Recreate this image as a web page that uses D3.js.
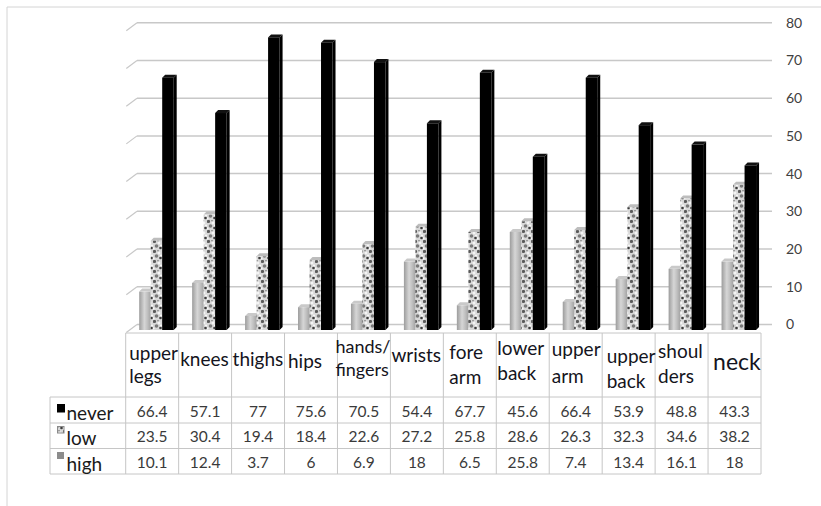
<!DOCTYPE html>
<html><head><meta charset="utf-8">
<script src="https://cdnjs.cloudflare.com/ajax/libs/d3/7.8.5/d3.min.js"></script>
<style>html,body{margin:0;padding:0;background:#fff;}svg{display:block;}</style>
</head><body>
<script>
// ---- data ----
const categories = ["upper legs","knees","thighs","hips","hands/fingers","wrists","fore arm","lower back","upper arm","upper back","shoulders","neck"];
const categoryLines = [["upper","legs"],["knees"],["thighs"],["hips"],["hands/","fingers"],["wrists"],["fore","arm"],["lower","back"],["upper","arm"],["upper","back"],["shoul","ders"],["neck"]];
const seriesNames = ["never","low","high"];
const never = [66.4,57.1,77,75.6,70.5,54.4,67.7,45.6,66.4,53.9,48.8,43.3];
const low   = [23.5,30.4,19.4,18.4,22.6,27.2,25.8,28.6,26.3,32.3,34.6,38.2];
const high  = [10.1,12.4,3.7,6,6.9,18,6.5,25.8,7.4,13.4,16.1,18];
const yTicks = [0,10,20,30,40,50,60,70,80];

// ---- layout / styling (not data) ----
const labelLayout = [
  {dx:3.5,y:360,gap:23,size:19},{dx:1.5,y:366,gap:17,size:19},{dx:1,y:366,gap:17,size:19},
  {dx:3.5,y:368,gap:17,size:19},{dx:-2,y:353,gap:23,size:18},{dx:1,y:362,gap:17,size:19},
  {dx:6,y:359,gap:25,size:19},{dx:1,y:355,gap:25,size:19},{dx:2.5,y:356,gap:27,size:19},
  {dx:4.5,y:363,gap:25,size:19},{dx:3,y:358,gap:25,size:19},{dx:5,y:370,gap:0,size:23}
];
const W = 821, H = 506;
const seriesData = {never, low, high};

const svg = d3.select("body").append("svg").attr("width", W).attr("height", H)
  .style("font-family", "Lato, 'Open Sans', sans-serif");

const defs = svg.append("defs");
const grad = defs.append("linearGradient").attr("id","gHigh").attr("x1","0").attr("x2","1").attr("y1","0").attr("y2","0");
[["0%","#9c9c9c"],["45%","#d6d6d6"],["70%","#c2c2c2"],["100%","#a4a4a4"]].forEach(s=>grad.append("stop").attr("offset",s[0]).attr("stop-color",s[1]));
const pat = defs.append("pattern").attr("id","pLow").attr("patternUnits","userSpaceOnUse").attr("width",9).attr("height",10);
pat.append("rect").attr("width",9).attr("height",10).attr("fill","#d8d8d8");
[[1.5,1.5,1.6,"#5a5a5a"],[6,3,1.4,"#f4f4f4"],[3.5,6,1.8,"#7a7a7a"],[7.5,8,1.3,"#3c3c3c"],[0.5,8.5,1.1,"#f8f8f8"],[5,0.5,1,"#999"],[8,5.5,0.9,"#fff"]]
  .forEach(c=>pat.append("circle").attr("cx",c[0]).attr("cy",c[1]).attr("r",c[2]).attr("fill",c[3]));

// frame
svg.append("line").attr("x1",7).attr("y1",7).attr("x2",W).attr("y2",7).attr("stroke","#d4d4d4");
svg.append("line").attr("x1",7).attr("y1",7).attr("x2",7).attr("y2",H).attr("stroke","#d4d4d4");

// scales
const x = d3.scaleBand().domain(categories).range([125.7, 761]).paddingInner(0).paddingOuter(0);
const xs = d3.scaleBand().domain(["high","low","never"]).range([13.5, 48]).padding(0);
const yWall = d3.scaleLinear().domain([0,80]).range([324.5, 22.7]);
const yBar = d3.scaleLinear().domain([0,80]).range([330, 26]);
const wallDX = 10.7, wallDY = -8, depth = 3;

// gridlines (back wall) + side-wall diagonals
const grid = svg.append("g");
yTicks.forEach(t=>{
  const yy = yWall(t);
  grid.append("line").attr("x1",137).attr("x2",772).attr("y1",yy).attr("y2",yy).attr("stroke","#c8c8c8").attr("stroke-width",1.5);
  grid.append("line").attr("x1",137-wallDX).attr("y1",yy-wallDY).attr("x2",137).attr("y2",yy).attr("stroke","#c8c8c8").attr("stroke-width",1.2);
});
// right axis labels
const yAxis = d3.axisRight(yWall).tickValues(yTicks).tickSize(0).tickPadding(0);
const ax = svg.append("g").attr("transform","translate(786,0)").call(yAxis);
ax.select(".domain").remove();
ax.selectAll("text").attr("fill","#404040").style("font-size","14px").style("font-family","Lato, 'Open Sans', sans-serif");

// bars
const fills = {high:"url(#gHigh)", low:"url(#pLow)", never:"#000"};
const tops = {high:"#c9c9c9", low:"#bdbdbd", never:"#111"};
const sides = {high:"#8e8e8e", low:"#9a9a9a", never:"#000"};
const bars = svg.append("g");
categories.forEach((c,i)=>{
  ["high","low","never"].forEach(s=>{
    const v = seriesData[s][i];
    const x0 = x(c) + xs(s), w = xs.bandwidth();
    const y0 = yBar(v), b = yBar(0);
    const g = bars.append("g");
    g.append("path").attr("d",`M${x0+w},${b}L${x0+w+depth},${b-depth}L${x0+w+depth},${y0-depth}L${x0+w},${y0}Z`).attr("fill",sides[s]);
    g.append("path").attr("d",`M${x0},${y0}L${x0+depth},${y0-depth}L${x0+w+depth},${y0-depth}L${x0+w},${y0}Z`).attr("fill",tops[s]);
    g.append("rect").attr("x",x0).attr("y",y0).attr("width",w).attr("height",b-y0).attr("fill",fills[s]);
  });
});

// table
const tbl = svg.append("g");
const headTop = 333;
const rowYs = [397, 423, 448.5, 474];
const legLeft = 50, tblRight = 761;
const lineColor = "#c6c6c6";
tbl.append("line").attr("x1",125.7).attr("x2",tblRight).attr("y1",headTop).attr("y2",headTop).attr("stroke",lineColor);
rowYs.forEach(yy=>tbl.append("line").attr("x1",legLeft).attr("x2",tblRight).attr("y1",yy).attr("y2",yy).attr("stroke",lineColor));
const colEdges = categories.map(c=>x(c)).concat([x.range()[1]]);
colEdges.forEach(xx=>tbl.append("line").attr("x1",xx).attr("x2",xx).attr("y1",headTop).attr("y2",rowYs[3]).attr("stroke",lineColor));
tbl.append("line").attr("x1",legLeft).attr("x2",legLeft).attr("y1",rowYs[0]).attr("y2",rowYs[3]).attr("stroke",lineColor);

// header labels (one text per line)
categories.forEach((c,i)=>{
  const L = labelLayout[i];
  categoryLines[i].forEach((ln,j)=>{
    tbl.append("text").attr("x", x(c)+L.dx).attr("y", L.y + j*L.gap)
      .attr("fill","#141420").style("font-size", L.size+"px").text(ln);
  });
});

// values
const rowBase = [416.5, 441.5, 467.5];
seriesNames.forEach((s,r)=>{
  categories.forEach((c,i)=>{
    tbl.append("text").attr("x", x(c)+x.bandwidth()/2).attr("y", rowBase[r]).attr("text-anchor","middle")
      .attr("fill","#3a3a3a").style("font-size","15.5px").text(seriesData[s][i]);
  });
  tbl.append("text").attr("x",66.5).attr("y",rowBase[r]+3.5).attr("fill","#1a1a1a").style("font-size","19px").text(s);
});
// legend keys
tbl.append("rect").attr("x",57).attr("y",404).attr("width",8).attr("height",8.5).attr("fill","#000");
tbl.append("rect").attr("x",57.5).attr("y",426.5).attr("width",6.5).attr("height",6.5).attr("fill","url(#pLow)").attr("stroke","#8a8a8a").attr("stroke-width",1);
tbl.append("rect").attr("x",57).attr("y",452).attr("width",7).attr("height",7).attr("fill","#8c8c8c");
</script>
</body></html>
